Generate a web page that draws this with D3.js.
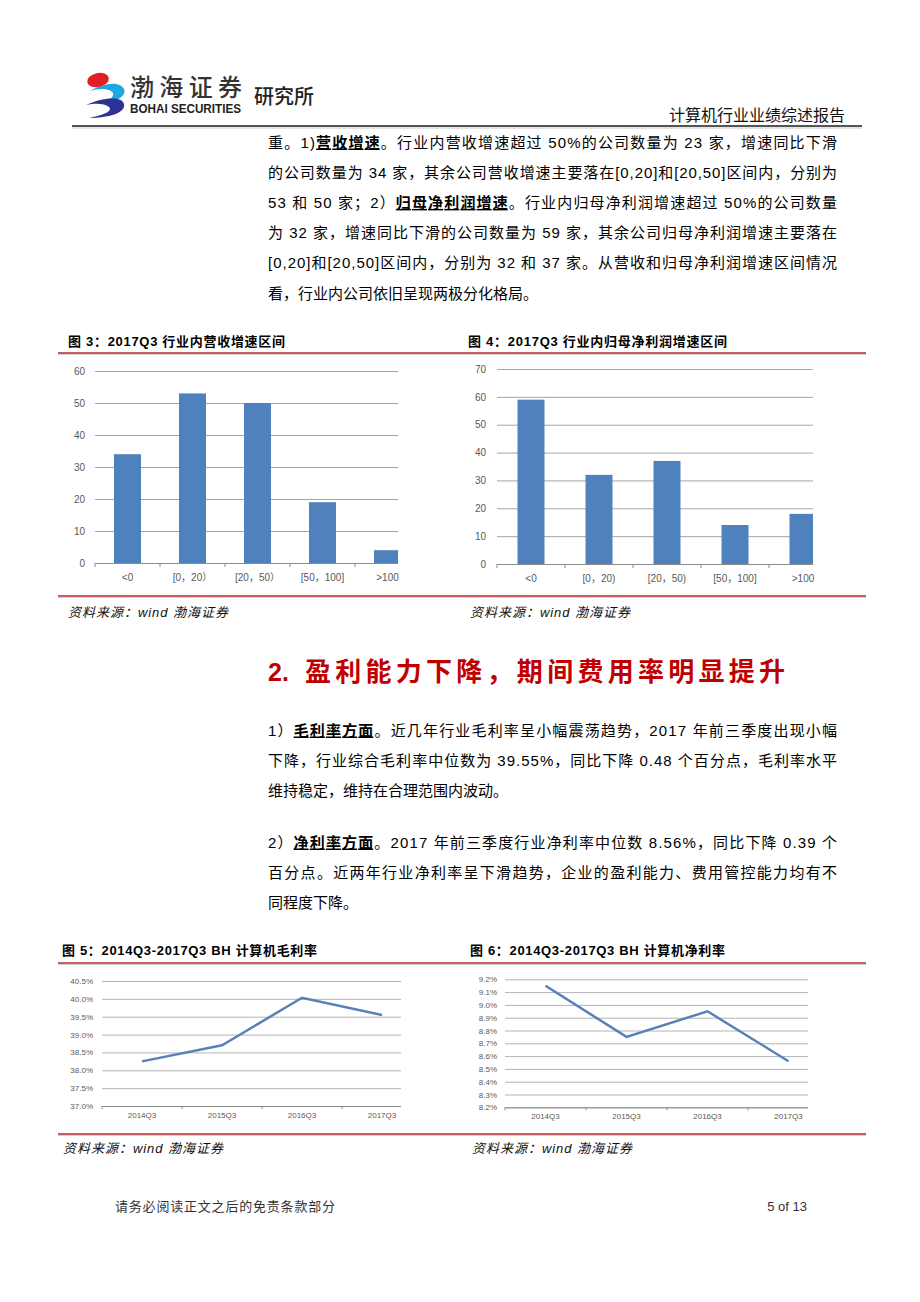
<!DOCTYPE html>
<html>
<head>
<meta charset="utf-8">
<script src="https://cdn.jsdelivr.net/npm/d3@7"></script>
<style>
body{margin:0;background:#fff}
svg text{font-family:"Liberation Sans","Noto Sans CJK SC",sans-serif}
</style>
</head>
<body>
<svg id="page" width="920" height="1302"></svg>
<script>
// données des graphiques
var revCats = ["<0", "[0，20）", "[20，50）", "[50，100]", ">100"];
var revCounts = [34, 53, 50, 19, 4];
var revTicks = [0, 10, 20, 30, 40, 50, 60];

var profitCats = ["<0", "[0，20)", "[20，50)", "[50，100]", ">100"];
var profitCounts = [59, 32, 37, 14, 18];
var profitTicks = [0, 10, 20, 30, 40, 50, 60, 70];

var quarters = ["2014Q3", "2015Q3", "2016Q3", "2017Q3"];
var grossMargin = [38.25, 38.70, 40.03, 39.55];
var grossTicks = [37.0, 37.5, 38.0, 38.5, 39.0, 39.5, 40.0, 40.5];
var netMargin = [9.15, 8.75, 8.95, 8.56];
var netTicks = [8.2, 8.3, 8.4, 8.5, 8.6, 8.7, 8.8, 8.9, 9.0, 9.1, 9.2];

var BLUE = "#4f81bd";
var RED = "#b3282d";
var GREY = "#595959";

var page = d3.select("#page");
page.append("rect").attr("width", 920).attr("height", 1302).attr("fill", "#fff");

// en-tête
var logo = page.append("g");
logo.append("path")
  .attr("d", "M90,91 C102,84 119,80 124,89 C127,96 116,102 104,103 C112,99 116,94 111,91 C105,88 96,89 90,91 Z")
  .attr("fill", "#1ea7e1");
logo.append("path")
  .attr("d", "M86,105 C100,98 122,95 124,104 C126,113 108,118 89,118 C104,115 113,111 109,107 C104,103 95,103 86,105 Z")
  .attr("fill", "#2d3192");
logo.append("ellipse")
  .attr("cx", 98).attr("cy", 80).attr("rx", 11).attr("ry", 7)
  .attr("transform", "rotate(-12,98,80)")
  .attr("fill", "#e31e24");
page.append("text")
  .attr("x", 130).attr("y", 96)
  .attr("font-size", 24).attr("font-weight", 500)
  .attr("textLength", 112)
  .attr("fill", "#333")
  .text("渤海证券");
page.append("text")
  .attr("x", 130).attr("y", 113)
  .attr("font-size", 12).attr("font-weight", "bold")
  .attr("textLength", 111).attr("lengthAdjust", "spacingAndGlyphs")
  .attr("fill", "#222")
  .text("BOHAI SECURITIES");
page.append("text")
  .attr("x", 254).attr("y", 104)
  .attr("font-size", 20).attr("font-weight", 500)
  .attr("fill", "#222")
  .text("研究所");
page.append("text")
  .attr("x", 845).attr("y", 121)
  .attr("font-size", 16).attr("text-anchor", "end")
  .attr("fill", "#111")
  .text("计算机行业业绩综述报告");
page.append("line")
  .attr("x1", 72).attr("x2", 862).attr("y1", 126).attr("y2", 126)
  .attr("stroke", "#555").attr("stroke-width", 2);
page.append("line")
  .attr("x1", 72).attr("x2", 862).attr("y1", 128).attr("y2", 128)
  .attr("stroke", "#c8c8c8").attr("stroke-width", 1);

// paragraphes : les passages entre "_" sont en gras souligné
function paragraph (lines, y0, step){
  lines.forEach(function (l, i){
    var t = page.append("text")
      .attr("x", 268).attr("y", y0 + i*step)
      .attr("font-size", 15).attr("fill", "#000");
    if (l.full) t.attr("textLength", 569).attr("lengthAdjust", "spacing");
    l.s.split("_").forEach(function (part, k){
      var sp = t.append("tspan").text(part);
      if (k % 2 == 1) sp.attr("font-weight", "bold").style("text-decoration", "underline");
    });
  });
}

paragraph([
  {s: "重。1)_营收增速_。行业内营收增速超过 50%的公司数量为 23 家，增速同比下滑", full: true},
  {s: "的公司数量为 34 家，其余公司营收增速主要落在[0,20]和[20,50]区间内，分别为", full: true},
  {s: "53 和 50 家；2）_归母净利润增速_。行业内归母净利润增速超过 50%的公司数量", full: true},
  {s: "为 32 家，增速同比下滑的公司数量为 59 家，其余公司归母净利润增速主要落在", full: true},
  {s: "[0,20]和[20,50]区间内，分别为 32 和 37 家。从营收和归母净利润增速区间情况", full: true},
  {s: "看，行业内公司依旧呈现两极分化格局。", full: false}
], 147.5, 30.2);

page.append("text")
  .attr("x", 268).attr("y", 681)
  .attr("font-size", 25).attr("font-weight", "bold")
  .attr("fill", "#c00000")
  .text("2.");
page.append("text")
  .attr("x", 305).attr("y", 681)
  .attr("font-size", 26).attr("font-weight", "bold")
  .attr("textLength", 480).attr("lengthAdjust", "spacing")
  .attr("fill", "#c00000")
  .text("盈利能力下降，期间费用率明显提升");

paragraph([
  {s: "1）_毛利率方面_。近几年行业毛利率呈小幅震荡趋势，2017 年前三季度出现小幅", full: true},
  {s: "下降，行业综合毛利率中位数为 39.55%，同比下降 0.48 个百分点，毛利率水平", full: true},
  {s: "维持稳定，维持在合理范围内波动。", full: false}
], 735.5, 30);

paragraph([
  {s: "2）_净利率方面_。2017 年前三季度行业净利率中位数 8.56%，同比下降 0.39 个", full: true},
  {s: "百分点。近两年行业净利率呈下滑趋势，企业的盈利能力、费用管控能力均有不", full: true},
  {s: "同程度下降。", full: false}
], 847.5, 30);

// filets rouges et légendes
function rule (x1, x2, y){
  page.append("line")
    .attr("x1", x1).attr("x2", x2).attr("y1", y + 1.5).attr("y2", y + 1.5)
    .attr("stroke", "#d0d0d0").attr("stroke-width", 1);
  page.append("line")
    .attr("x1", x1).attr("x2", x2).attr("y1", y).attr("y2", y)
    .attr("stroke", RED).attr("stroke-width", 1.6);
}
rule(58, 866, 353);
rule(58, 866, 596);
rule(58, 866, 963);
rule(58, 866, 1134);

function caption (x, y, len, txt){
  page.append("text")
    .attr("x", x).attr("y", y)
    .attr("font-size", 13).attr("font-weight", "bold")
    .attr("textLength", len).attr("lengthAdjust", "spacing")
    .attr("fill", "#000")
    .text(txt);
}
caption(68, 346, 217, "图 3：2017Q3 行业内营收增速区间");
caption(468, 346, 259, "图 4：2017Q3 行业内归母净利润增速区间");
caption(62, 955, 255, "图 5：2014Q3-2017Q3 BH 计算机毛利率");
caption(470, 955, 255, "图 6：2014Q3-2017Q3 BH 计算机净利率");

function source (x, y){
  page.append("text")
    .attr("x", x).attr("y", y)
    .attr("font-size", 13).attr("font-style", "italic")
    .attr("textLength", 160).attr("lengthAdjust", "spacing")
    .attr("fill", "#111")
    .text("资料来源：wind  渤海证券");
}
source(68, 617);
source(470, 617);
source(63, 1153);
source(472, 1153);

// histogrammes
var clipcount = 0;
function drawBarChart (o){
  var g = page.append("g");
  var n = o.cats.length;
  var x = d3.scaleBand().domain(o.cats)
    .range([o.left, o.left + o.step*n])
    .paddingInner(o.pad).paddingOuter(o.pad/2);
  var y = d3.scaleLinear().domain([0, d3.max(o.ticks)]).range([o.bottom, o.top]);
  var id = "clip" + (clipcount++);
  g.append("clipPath").attr("id", id).append("rect")
    .attr("x", o.left).attr("y", o.top - 5)
    .attr("width", o.right - o.left).attr("height", o.bottom - o.top + 10);

  var ax = g.append("g")
    .attr("transform", "translate(" + o.left + ",0)")
    .call(d3.axisLeft(y).tickValues(o.ticks).tickSize(-(o.right - o.left))
      .tickPadding(o.left - o.labelX).tickFormat(d3.format("d")));
  ax.select(".domain").remove();
  ax.selectAll(".tick line").attr("stroke", "#a6a6a6");
  ax.selectAll(".tick text")
    .attr("font-size", 10).attr("fill", GREY)
    .attr("font-family", "Liberation Sans");

  g.append("g").attr("clip-path", "url(#" + id + ")")
    .selectAll("rect").data(o.vals).enter().append("rect")
    .attr("x", function (d, i){ return x(o.cats[i]); })
    .attr("y", function (d){ return y(d); })
    .attr("width", x.bandwidth())
    .attr("height", function (d){ return o.bottom - y(d); })
    .attr("fill", BLUE);

  g.append("line")
    .attr("x1", o.left).attr("x2", o.right)
    .attr("y1", o.bottom + 0.5).attr("y2", o.bottom + 0.5)
    .attr("stroke", "#8c8c8c");
  g.selectAll("line.xt").data(o.cats).enter().append("line")
    .attr("class", "xt")
    .attr("x1", function (d, i){ return o.left + i*x.step(); })
    .attr("x2", function (d, i){ return o.left + i*x.step(); })
    .attr("y1", o.bottom).attr("y2", o.bottom + 4)
    .attr("stroke", "#8c8c8c");
  g.selectAll("text.xl").data(o.cats).enter().append("text")
    .attr("class", "xl")
    .attr("x", function (d){ return x(d) + x.bandwidth()/2; })
    .attr("y", o.bottom + 18)
    .attr("text-anchor", "middle")
    .attr("font-size", 10).attr("fill", GREY)
    .text(function (d){ return d; });
}

drawBarChart({cats: revCats, vals: revCounts, ticks: revTicks,
  left: 95, right: 398, step: 65, pad: 0.585, top: 371, bottom: 563, labelX: 85});
drawBarChart({cats: profitCats, vals: profitCounts, ticks: profitTicks,
  left: 497, right: 813, step: 68, pad: 0.603, top: 369, bottom: 564, labelX: 486});

// courbes
function drawLineChart (o){
  var g = page.append("g");
  var x = d3.scaleBand().domain(quarters).range([o.left, o.left + o.step*quarters.length]);
  var y = d3.scaleLinear().domain([d3.min(o.ticks), d3.max(o.ticks)]).range([o.bottom, o.top]);

  var ax = g.append("g")
    .attr("transform", "translate(" + o.left + ",0)")
    .call(d3.axisLeft(y).tickValues(o.ticks).tickSize(-(o.right - o.left))
      .tickPadding(o.left - o.labelX).tickFormat(function (d){ return d3.format(".1f")(d) + "%"; }));
  ax.select(".domain").remove();
  ax.selectAll(".tick line").attr("stroke", "#b4b4b4");
  ax.selectAll(".tick text")
    .attr("font-size", 8).attr("fill", GREY)
    .attr("font-family", "DejaVu Sans");

  g.append("line")
    .attr("x1", o.left).attr("x2", o.right)
    .attr("y1", o.bottom + 0.5).attr("y2", o.bottom + 0.5)
    .attr("stroke", "#8c8c8c");
  g.selectAll("line.xt").data(quarters).enter().append("line")
    .attr("class", "xt")
    .attr("x1", function (d){ return x(d); })
    .attr("x2", function (d){ return x(d); })
    .attr("y1", o.bottom).attr("y2", o.bottom + 3)
    .attr("stroke", "#8c8c8c");
  g.selectAll("text.xl").data(quarters).enter().append("text")
    .attr("class", "xl")
    .attr("x", function (d){ return x(d) + x.bandwidth()/2; })
    .attr("y", o.bottom + 12)
    .attr("text-anchor", "middle")
    .attr("font-size", 8).attr("fill", GREY)
    .attr("font-family", "DejaVu Sans")
    .text(function (d){ return d; });

  var line = d3.line()
    .x(function (d, i){ return x(quarters[i]) + x.bandwidth()/2; })
    .y(function (d){ return y(d); });
  g.append("path").datum(o.vals)
    .attr("d", line)
    .attr("fill", "none")
    .attr("stroke", "#5a80b8")
    .attr("stroke-width", 2.5);
}

drawLineChart({vals: grossMargin, ticks: grossTicks,
  left: 102, right: 401, step: 80, top: 981, bottom: 1106, labelX: 93});
drawLineChart({vals: netMargin, ticks: netTicks,
  left: 505, right: 808, step: 81, top: 979.3, bottom: 1107.3, labelX: 497});

// pied de page
page.append("text")
  .attr("x", 115).attr("y", 1211)
  .attr("font-size", 13).attr("textLength", 220).attr("lengthAdjust", "spacing")
  .attr("fill", "#333")
  .text("请务必阅读正文之后的免责条款部分");
page.append("text")
  .attr("x", 807).attr("y", 1211)
  .attr("font-size", 13).attr("text-anchor", "end")
  .attr("font-family", "Liberation Serif")
  .attr("fill", "#333")
  .text("5 of 13");
</script>
</body>
</html>
